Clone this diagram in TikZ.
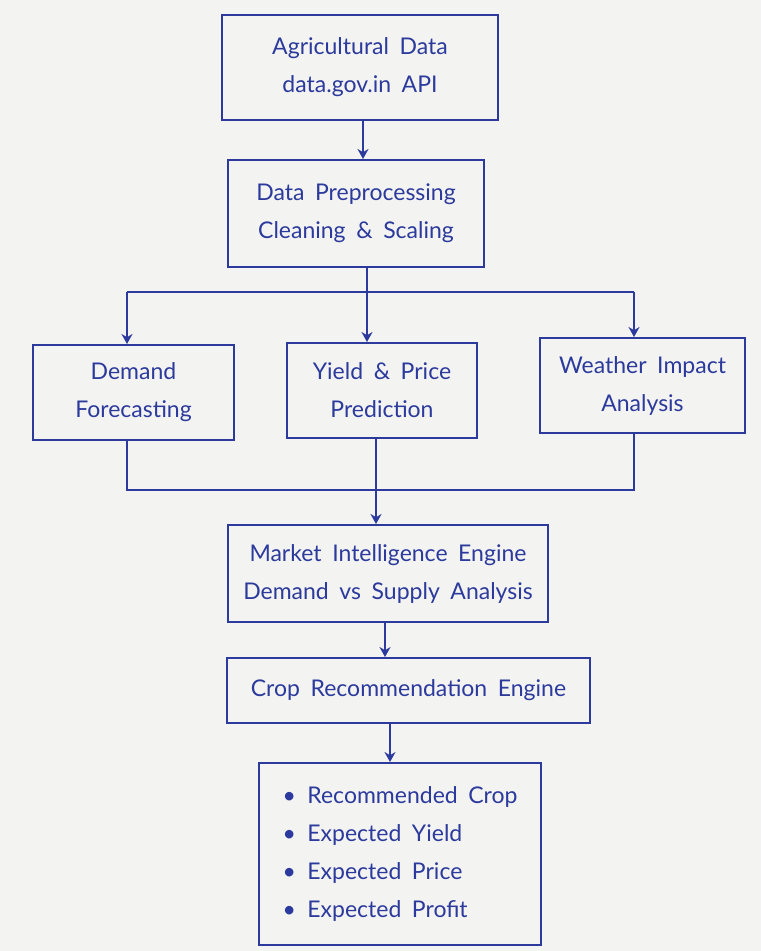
\documentclass[tikz,border=0pt]{standalone}
\usepackage{fontspec}
\setmainfont{Lato}[WordSpace=1.8]
\usetikzlibrary{arrows.meta,calc}
\definecolor{ink}{HTML}{2B3A9C}
\definecolor{paper}{HTML}{F3F3F1}
\tikzset{
  box/.style={draw=ink, line width=2pt, rectangle, align=center, text=ink,
    font=\fontsize{23}{38}\selectfont, inner sep=0pt},
  conn/.style={draw=ink, line width=2pt},
  arr/.style={conn, -{Stealth[length=10pt,width=11pt]}},
}
\begin{document}
\begin{tikzpicture}[x=1pt,y=-1pt]
\fill[paper] (0,0) rectangle (761,951);
\useasboundingbox (0,0) rectangle (761,951);

\node[box, minimum width=276pt, minimum height=105pt] (b1) at (360,67.5) {Agricultural Data\\data.gov.in API};
\node[box, minimum width=256pt, minimum height=107pt] (b2) at (356,213.5) {Data Preprocessing\\Cleaning \& Scaling};
\node[box, minimum width=201pt, minimum height=95pt] (b3) at (133.5,392.5) {Demand\\Forecasting};
\node[box, minimum width=190pt, minimum height=95pt] (b4) at (382,390.5) {Yield \& Price\\Prediction};
\node[box, minimum width=205pt, minimum height=95pt] (b5) at (642.5,385.5) {Weather Impact\\Analysis};
\node[box, minimum width=320pt, minimum height=97pt] (b6) at (388,573.5) {Market Intelligence Engine\\Demand vs Supply Analysis};
\node[box, minimum width=363pt, minimum height=65pt] (b7) at (408.5,690.5) {Crop Recommendation Engine};
\node[box, minimum width=282pt, minimum height=182pt, align=left] (b8) at (400,854)
  {\textbullet\enspace Recommended Crop\\\textbullet\enspace Expected Yield\\\textbullet\enspace Expected Price\\\textbullet\enspace Expected Profit};

% b1 -> b2
\draw[arr] ([xshift=3pt]b1.south) -- ([xshift=3pt]b1.south |- b2.north);

% split
\coordinate (j1) at ($(b2.south)+(11,25)$);
\coordinate (jl) at (127,292);
\coordinate (jr) at (634,292);
\draw[conn] ([xshift=11pt]b2.south) -- (j1);
\draw[conn] (jl) -- (jr);
\draw[arr] (jl) -- (jl |- b3.north);
\draw[arr] (j1) -- (j1 |- b4.north);
\draw[arr] (jr) -- (jr |- b5.north);

% merge
\coordinate (ml) at (127,490);
\coordinate (mr) at (634,490);
\coordinate (mc) at (376,490);
\draw[conn] (ml |- b3.south) -- (ml) -- (mr) -- (mr |- b5.south);
\draw[arr] (mc |- b4.south) -- (mc |- b6.north);

% b6 -> b7 -> b8
\coordinate (c67) at (385,622);
\draw[arr] (c67 |- b6.south) -- (c67 |- b7.north);
\coordinate (c78) at (390,723);
\draw[arr] (c78 |- b7.south) -- (c78 |- b8.north);
\end{tikzpicture}
\end{document}
